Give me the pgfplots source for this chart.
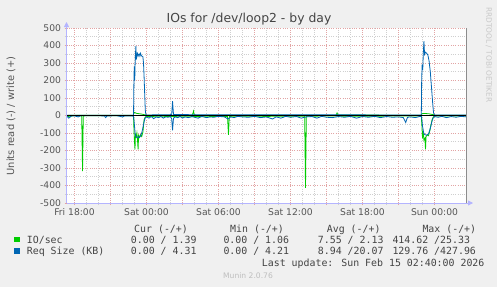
\documentclass[border=0pt]{standalone}
\usepackage{pgfplots}
\pgfplotsset{compat=1.18}
\usepackage{fontspec}
\setmainfont{DejaVu Sans}
\newfontfamily\monofont{DejaVu Sans Mono}
\usetikzlibrary{arrows.meta}
\definecolor{bgc}{HTML}{F0F0F0}
\definecolor{mgridc}{HTML}{E2A4A4}
\definecolor{gridc}{HTML}{CFCFCF}
\definecolor{axc}{HTML}{B4B4FF}
\definecolor{txt}{HTML}{555555}
\definecolor{iog}{HTML}{00CC00}
\definecolor{rqb}{HTML}{0066B3}
\begin{document}
\begin{tikzpicture}
\fill[bgc] (0pt,0pt) rectangle (497pt,-287pt);
\begin{axis}[
  at={(66.5pt,-203pt)}, anchor=south west, scale only axis,
  width=400pt, height=175pt,
  xmin=-6.6667, xmax=26.6667, ymin=-500, ymax=500,
  axis background/.style={fill=white},
  axis line style={draw=none},
  xtick={-6,-3,...,24},
  xticklabels={Fri 18:00,{},Sat 00:00,{},Sat 06:00,{},Sat 12:00,{},Sat 18:00,{},Sun 00:00},
  minor x tick num=2,
  ytick={-500,-400,...,500}, minor y tick num=1,
  grid=both,
  major grid style={dash pattern=on 0.7pt off 1.6pt, mgridc, line width=0.6pt},
  minor grid style={dash pattern=on 0.7pt off 1.6pt, gridc, line width=0.6pt},
  tick pos=left, tick align=outside,
  major tick length=2pt, minor tick length=2pt,
  major tick style={mgridc, line width=0.6pt},
  minor tick style={gridc, line width=0.6pt},
  /pgf/number format/assume math mode=true,
  /pgf/number format/.cd, 1000 sep={}, /pgfplots/.cd,
  ticklabel style={font=\fontsize{9.2}{10}\selectfont, text=txt},
  clip=true,
]
% IO/sec read (negative)
\addplot[iog, line width=0.8pt] coordinates {
(-6.6,-3) (-6.4,-8) (-6.2,-2) (-5.5,-1) (-5.4,-4) (-5.33,-318) (-5.27,-4) (-5.1,-1) (-3,-1)
(-1.1,-1) (-1.08,-5) (-1.04,-90) (-1.0,-150) (-0.96,-194) (-0.92,-110) (-0.85,-120) (-0.8,-100)
(-0.75,-140) (-0.7,-194) (-0.66,-115) (-0.6,-125) (-0.5,-110) (-0.4,-120) (-0.3,-95) (-0.25,-60)
(-0.2,-25) (-0.1,-8) (0,-5) (0.5,-6) (1,-8) (2,-5) (3,-8) (4,-6) (5,-7) (6,-5) (6.75,-5) (6.83,-110)
(6.9,-5) (8,-4) (10,-5) (12,-4) (13.18,-4) (13.25,-414) (13.32,-4) (15,-3) (18,-4) (21,-3)
(22.9,-2) (22.95,-60) (23.0,-130) (23.05,-90) (23.12,-140) (23.2,-130) (23.25,-194) (23.3,-120)
(23.4,-110) (23.5,-115) (23.6,-90) (23.7,-55) (23.8,-25) (23.9,-8) (24,-3) (26.67,-2)
};
% IO/sec write (positive)
\addplot[iog, line width=0.8pt] coordinates {
(-6.6,1) (-1.1,1) (-1.06,15) (-1.0,18) (-0.9,14) (-0.8,12) (-0.6,10) (-0.4,8) (-0.2,5) (0,2)
(3.8,2) (3.88,15) (3.92,25) (3.97,5) (4.1,2) (15.8,2) (15.88,15) (15.95,3) (22.9,1) (22.95,10)
(23.1,12) (23.5,10) (23.9,5) (24,1) (26.67,1)
};
% Req size read (negative)
\addplot[rqb, line width=0.8pt] coordinates {
(-6.6,-5) (-6.5,-15) (-6.4,-12) (-6.3,-3) (-6.0,-2) (-5.7,-8) (-5.5,-2) (-5.0,-1) (-4.0,-1)
(-3.5,-3) (-3.4,-12) (-3.3,-3) (-2.5,-1) (-2.0,-8) (-1.8,-2) (-1.2,-2) (-1.08,-5) (-1.0,-60)
(-0.95,-100) (-0.9,-118) (-0.8,-126) (-0.7,-122) (-0.6,-126) (-0.5,-118) (-0.4,-100) (-0.3,-70)
(-0.2,-35) (-0.1,-12) (0,-8) (0.2,-15) (0.4,-6) (0.6,-18) (0.8,-8) (1.0,-12) (1.2,-5) (1.4,-15)
(1.6,-8) (1.8,-10) (2.0,-6) (2.1,-20) (2.17,-85) (2.25,-15) (2.4,-8) (2.6,-12) (2.8,-5) (3.0,-15)
(3.2,-8) (3.5,-12) (3.8,-6) (4.0,-10) (4.3,-15) (4.6,-5) (5.0,-12) (5.3,-8) (5.6,-10) (6.0,-5)
(6.5,-8) (6.8,-20) (7.0,-8) (7.3,-12) (7.6,-5) (8.0,-8) (8.5,-10) (9.0,-5) (9.5,-12) (10.0,-8)
(10.5,-20) (10.8,-8) (11.2,-15) (11.6,-5) (12.0,-10) (12.5,-6) (12.9,-15) (13.3,-8) (13.8,-6)
(14.2,-15) (14.6,-5) (15.0,-10) (15.5,-12) (16.0,-6) (16.5,-10) (17.0,-5) (17.5,-15) (18.0,-6)
(18.5,-10) (19.0,-5) (19.5,-12) (20.0,-6) (20.5,-10) (21.0,-8) (21.4,-12) (21.6,-40) (21.75,-10)
(22.0,-8) (22.4,-12) (22.8,-5) (22.92,-5) (23.0,-60) (23.1,-100) (23.2,-110) (23.35,-112)
(23.5,-105) (23.6,-85) (23.7,-60) (23.8,-30) (23.9,-12) (24.0,-6) (24.3,-10) (24.6,-5) (25.0,-12)
(25.4,-6) (25.8,-10) (26.2,-5) (26.67,-8)
};
% Req size write (positive)
\addplot[rqb, line width=0.8pt] coordinates {
(-6.6,2) (-1.1,2) (-1.08,5) (-1.05,180) (-1.02,280) (-0.98,200) (-0.95,290) (-0.92,350)
(-0.88,398) (-0.85,320) (-0.8,345) (-0.75,355) (-0.7,340) (-0.65,350) (-0.6,352) (-0.55,340)
(-0.5,355) (-0.45,345) (-0.4,340) (-0.3,335) (-0.25,300) (-0.2,220) (-0.15,120) (-0.1,30)
(-0.05,5) (0,3) (2.1,5) (2.17,82) (2.25,5) (22.9,3) (22.93,200) (22.97,290) (23.02,260)
(23.07,360) (23.12,425) (23.17,350) (23.25,362) (23.35,355) (23.45,345) (23.55,310) (23.65,250)
(23.75,160) (23.85,70) (23.92,15) (24.0,3) (26.67,3)
};
\addplot[black, line width=0.9pt] coordinates {(-6.6667,0) (26.6667,0)};
\end{axis}
% frame lines
\draw[axc, line width=0.8pt, -{Triangle[length=5pt,width=5pt]}] (66.5pt,-203pt) -- (66.5pt,-22pt);
\draw[axc, line width=0.8pt, -{Triangle[length=5pt,width=5pt]}] (66.5pt,-203pt) -- (473pt,-203pt);
\draw[gray!90, line width=0.9pt] (466.5pt,-28pt) -- (466.5pt,-203pt);
% title and labels
\node[anchor=base, text={rgb,255:red,68;green,68;blue,68}, font=\fontsize{12.4}{14}\selectfont, inner sep=0] at (249pt,-22.5pt) {IOs for /dev/loop2 - by day};
\node[rotate=90, text=txt, font=\fontsize{9.9}{11}\selectfont, inner sep=0] at (11pt,-116pt) {Units read (-) / write (+)};
\node[rotate=-90, anchor=north west, text={rgb,255:red,200;green,200;blue,200}, font=\fontsize{7.4}{8}\selectfont, inner sep=0] at (492pt,-7pt) {RRDTOOL / TOBI OETIKER};
% legend
\begin{scope}[every node/.style={anchor=base west, inner sep=0, text={rgb,255:red,68;green,68;blue,68}, font=\monofont\fontsize{9.9}{11}\selectfont}]
\node at (134pt,-232pt) {Cur (-/+)};
\node at (230pt,-232pt) {Min (-/+)};
\node at (326.7pt,-232pt) {Avg (-/+)};
\node at (422.3pt,-232pt) {Max (-/+)};
\fill[iog] (14pt,-236.7pt) rectangle (20pt,-242.3pt);
\fill[rqb] (14pt,-248.3pt) rectangle (20pt,-254pt);
\node at (26.7pt,-243pt) {IO/sec};
\node at (130.7pt,-243pt) {0.00 / 1.39};
\node at (223.3pt,-243pt) {0.00 / 1.06};
\node at (317.7pt,-243pt) {7.55 / 2.13};
\node at (392.3pt,-243pt) {414.62 /25.33};
\node at (26.7pt,-254.5pt) {Req Size (KB)};
\node at (130.7pt,-254.5pt) {0.00 / 4.31};
\node at (223.3pt,-254.5pt) {0.00 / 4.21};
\node at (317.7pt,-254.5pt) {8.94 /20.07};
\node at (392.3pt,-254.5pt) {129.76 /427.96};
\node at (261.7pt,-266.5pt) {Last update: Sun Feb 15 02:40:00 2026};
\end{scope}
\node[anchor=base, inner sep=0, text={rgb,255:red,190;green,190;blue,190}, font=\fontsize{7.6}{8}\selectfont] at (248pt,-278pt) {Munin 2.0.76};
\end{tikzpicture}
\end{document}
